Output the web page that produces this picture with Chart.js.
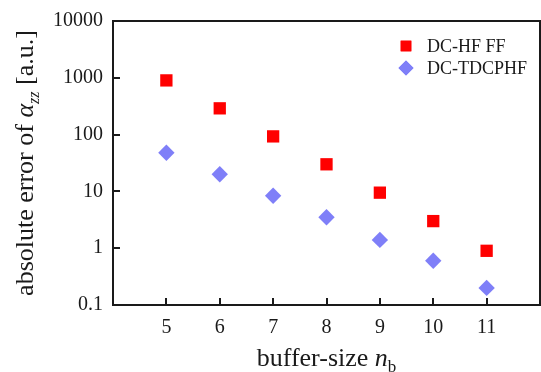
<!DOCTYPE html>
<html>
<head>
<meta charset="utf-8">
<script src="https://cdn.jsdelivr.net/npm/chart.js@4"></script>
<style>
  html, body { margin: 0; padding: 0; background: #fff; }
  #wrap { width: 541px; height: 372px; }
</style>
</head>
<body>
<div id="wrap"><canvas id="errChart" width="541" height="372"></canvas></div>
<script>
const bufferSizes = [5, 6, 7, 8, 9, 10, 11];
const hfFF = [900, 290, 93, 30, 9.5, 3.0, 0.9];
const tdcphf = [48, 20, 8.4, 3.5, 1.4, 0.6, 0.2];
const xTicks = [5, 6, 7, 8, 9, 10, 11];
const yTicks = [0.1, 1, 10, 100, 1000, 10000];
const seriesNames = ['DC-HF FF', 'DC-TDCPHF'];

const SERIF = '"Liberation Serif", "DejaVu Serif", serif';
const INK = '#1a1a1a';

function toPoints(vals) {
  return bufferSizes.map((x, i) => ({ x: x, y: vals[i] }));
}

// frame, inward ticks, axis titles and legend
const decorations = {
  id: 'decorations',
  afterDraw(chart) {
    const ctx = chart.ctx;
    const a = chart.chartArea;
    const x = chart.scales.x, y = chart.scales.y;
    ctx.save();
    ctx.strokeStyle = INK;
    ctx.lineWidth = 2;
    ctx.strokeRect(a.left, a.top, a.right - a.left, a.bottom - a.top);

    ctx.beginPath();
    x.ticks.forEach(t => {
      const px = Math.round(x.getPixelForValue(t.value));
      ctx.moveTo(px, a.bottom);
      ctx.lineTo(px, a.bottom - 7);
    });
    y.ticks.forEach(t => {
      const py = Math.round(y.getPixelForValue(t.value));
      ctx.moveTo(a.left, py);
      ctx.lineTo(a.left + 7, py);
    });
    ctx.stroke();

    ctx.fillStyle = INK;
    ctx.textBaseline = 'alphabetic';

    // x title: buffer-size n_b
    const parts = [
      { t: 'buffer-size ', f: '26px ' + SERIF, dy: 0 },
      { t: 'n', f: 'italic 26px ' + SERIF, dy: 0 },
      { t: 'b', f: '17px ' + SERIF, dy: 6 }
    ];
    drawRun(ctx, parts, (a.left + a.right) / 2, 366);

    // y title: absolute error of alpha_zz [a.u.]
    ctx.save();
    ctx.translate(33, (a.top + a.bottom) / 2);
    ctx.rotate(-Math.PI / 2);
    const yparts = [
      { t: 'absolute error of ', f: '26px ' + SERIF, dy: 0 },
      { t: 'α', f: 'italic 26px ' + SERIF, dy: 0 },
      { t: 'zz', f: 'italic 16px ' + SERIF, dy: 6 },
      { t: ' [a.u.]', f: '26px ' + SERIF, dy: 0 }
    ];
    drawRun(ctx, yparts, 0, 0);
    ctx.restore();

    // legend
    const ds = chart.data.datasets;
    ds.forEach((d, i) => {
      const cy = 46 + i * 22;
      ctx.fillStyle = d.backgroundColor;
      Chart.helpers.drawPoint(ctx, {
        pointStyle: d.pointStyle, radius: d.legendRadius, rotation: 0, borderWidth: 0
      }, 406, cy);
      ctx.fill();
      ctx.fillStyle = INK;
      ctx.font = '18px ' + SERIF;
      ctx.textBaseline = 'middle';
      ctx.textAlign = 'left';
      ctx.fillText(d.label, 427, cy + 1);
    });
    ctx.restore();
  }
};

function drawRun(ctx, parts, cx, baseY) {
  let total = 0;
  parts.forEach(p => { ctx.font = p.f; p.w = ctx.measureText(p.t).width; total += p.w; });
  let px = cx - total / 2;
  ctx.textAlign = 'left';
  parts.forEach(p => {
    ctx.font = p.f;
    ctx.fillText(p.t, px, baseY + p.dy);
    px += p.w;
  });
}

const ctx = document.getElementById('errChart').getContext('2d');
const errChart = new Chart(ctx, {
  type: 'scatter',
  data: {
    datasets: [{
      label: seriesNames[0],
      data: toPoints(hfFF),
      pointStyle: 'rect',
      pointRadius: 8.7,
      legendRadius: 7.5,
      backgroundColor: '#ff0000',
      borderWidth: 0
    }, {
      label: seriesNames[1],
      data: toPoints(tdcphf),
      pointStyle: 'rectRot',
      pointRadius: 8.2,
      legendRadius: 7.5,
      backgroundColor: '#7f7ff8',
      borderWidth: 0
    }]
  },
  options: {
    responsive: false,
    animation: false,
    layout: { autoPadding: false, padding: { top: 21, right: 1, left: 0, bottom: 0 } },
    plugins: {
      legend: { display: false },
      tooltip: { enabled: false }
    },
    scales: {
      x: {
        type: 'linear',
        min: 4,
        max: 12,
        afterBuildTicks: s => { s.ticks = xTicks.map(v => ({ value: v })); },
        afterFit: s => { s.height = 67; s.paddingLeft = 0; s.paddingRight = 0; },
        grid: { display: false, drawTicks: false },
        border: { display: false },
        ticks: { color: INK, padding: 11, font: { family: SERIF, size: 20 } }
      },
      y: {
        type: 'logarithmic',
        min: 0.1,
        max: 10000,
        afterBuildTicks: s => { s.ticks = yTicks.map(v => ({ value: v })); },
        afterFit: s => { s.width = 113; s.paddingTop = 0; s.paddingBottom = 0; },
        grid: { display: false, drawTicks: false },
        border: { display: false },
        ticks: { color: INK, padding: 10, font: { family: SERIF, size: 20 }, callback: v => String(v) }
      }
    }
  },
  plugins: [decorations]
});
</script>
</body>
</html>
